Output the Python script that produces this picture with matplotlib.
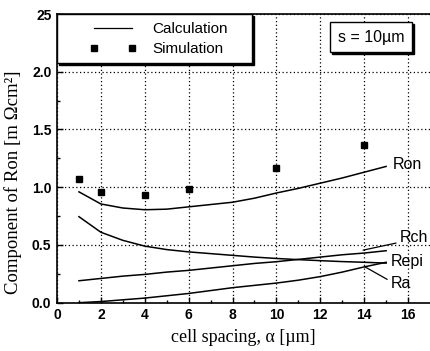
import numpy as np
import matplotlib
matplotlib.use("Agg")
import matplotlib.pyplot as plt
from matplotlib.patches import Rectangle
from matplotlib.lines import Line2D
from matplotlib.transforms import offset_copy

# calculated components vs cell spacing (um)
spacing = [1, 2, 3, 4, 5, 6, 7, 8, 9, 10, 11, 12, 13, 14, 15]
ron = [0.96, 0.855, 0.82, 0.805, 0.81, 0.83, 0.85, 0.87, 0.905, 0.95, 0.99, 1.035, 1.08, 1.13, 1.18]
repi = [0.745, 0.61, 0.54, 0.49, 0.46, 0.44, 0.425, 0.41, 0.395, 0.383, 0.373, 0.364, 0.356, 0.35, 0.343]
rch = [0.19, 0.21, 0.23, 0.245, 0.265, 0.28, 0.30, 0.32, 0.34, 0.355, 0.375, 0.395, 0.415, 0.43, 0.45]
ra = [0.0, 0.01, 0.025, 0.04, 0.06, 0.08, 0.105, 0.13, 0.15, 0.17, 0.195, 0.226, 0.265, 0.31, 0.35]

# simulation points
sim_x = [1, 2, 4, 6, 10, 14]
sim_y = [1.07, 0.955, 0.93, 0.985, 1.165, 1.365]

sans = "Liberation Sans"
serif = "Liberation Serif"

fig = plt.figure(figsize=(4.30, 3.51), dpi=100)
ax = fig.add_axes([57 / 430, 1 - 302.7 / 351, 373 / 430, 288.7 / 351])

for y in [ron, repi, rch, ra]:
    ax.plot(spacing, y, color="k", lw=1.1, zorder=3)
ax.plot(sim_x, sim_y, ls="none", marker="s", ms=4.8, color="k", zorder=3)

ax.set_xlim(0, 17)
ax.set_ylim(0, 2.5)
ax.set_xticks(np.arange(0, 17, 2))
ax.set_xticks(np.arange(1, 17, 2), minor=True)
ax.set_yticks(np.arange(0, 2.51, 0.5))
ax.set_yticks(np.arange(0.25, 2.5, 0.5), minor=True)
ax.set_yticklabels(["0.0", "0.5", "1.0", "1.5", "2.0", "25"])
ax.tick_params(which="both", direction="in", width=1, labelsize=10, pad=4)
ax.tick_params(which="major", length=4)
ax.tick_params(which="minor", length=2)
for lab in ax.get_xticklabels() + ax.get_yticklabels():
    lab.set_fontfamily(sans)
    lab.set_fontweight("bold")
ax.spines["right"].set_visible(False)
for s in ["left", "bottom", "top"]:
    ax.spines[s].set_linewidth(1.2)
ax.grid(True, which="major", color="k", ls=(0, (1, 2)), lw=0.9)

ax.set_xlabel("cell spacing, \u03b1 [\u00b5m]", family=serif, fontsize=13, labelpad=5)
ax.set_ylabel("Component of Ron [m \u03a9cm\u00b2]", family=serif, fontsize=13.5)
ax.yaxis.set_label_coords(-0.095, 0.418)

# legend frame and text box, each with a shadow
shadow_tr = offset_copy(ax.transAxes, fig=fig, x=2, y=-2, units="dots")
for (x0, y0, x1, y1) in [(0.0, 0.83, 0.523, 1.0), (0.732, 0.868, 0.952, 0.972)]:
    ax.add_patch(Rectangle((x0, y0), x1 - x0, y1 - y0, transform=shadow_tr,
                           facecolor="k", edgecolor="k", lw=1, zorder=4))
    ax.add_patch(Rectangle((x0, y0), x1 - x0, y1 - y0, transform=ax.transAxes,
                           facecolor="white", edgecolor="k", lw=1, zorder=4.5))

calc_h = Line2D([], [], color="k", lw=0.9)
sim_h = Line2D([], [], ls="none", marker="s", ms=4.8, color="k")
leg = ax.legend([calc_h, sim_h], ["Calculation", "Simulation"], loc="upper left",
                bbox_to_anchor=(0.087, 0.972), frameon=False, numpoints=2,
                handlelength=3.1, handletextpad=1.0, borderpad=0, borderaxespad=0,
                labelspacing=0.38, prop={"family": sans, "size": 11})
leg.set_zorder(6)

ax.text(0.842, 0.920, "s = 10\u00b5m", transform=ax.transAxes, ha="center", va="center",
        family=sans, fontsize=11.5, zorder=6)

# curve labels
lab_kw = dict(family=sans, fontsize=11.5, va="center", ha="left", zorder=6)
ax.text(15.3, 1.197, "Ron", **lab_kw)
ax.text(15.19, 0.358, "Repi", **lab_kw)
ax.annotate("Rch", xy=(13.95, 0.455), xytext=(15.64, 0.563), textcoords="data",
            arrowprops=dict(arrowstyle="-", lw=0.9, shrinkA=1, shrinkB=0, relpos=(0, 0.2)),
            **lab_kw)
ax.annotate("Ra", xy=(14.04, 0.31), xytext=(15.23, 0.163), textcoords="data",
            arrowprops=dict(arrowstyle="-", lw=0.9, shrinkA=1, shrinkB=0, relpos=(0, 0.65)),
            **lab_kw)

fig.savefig("out.png", dpi=100)
